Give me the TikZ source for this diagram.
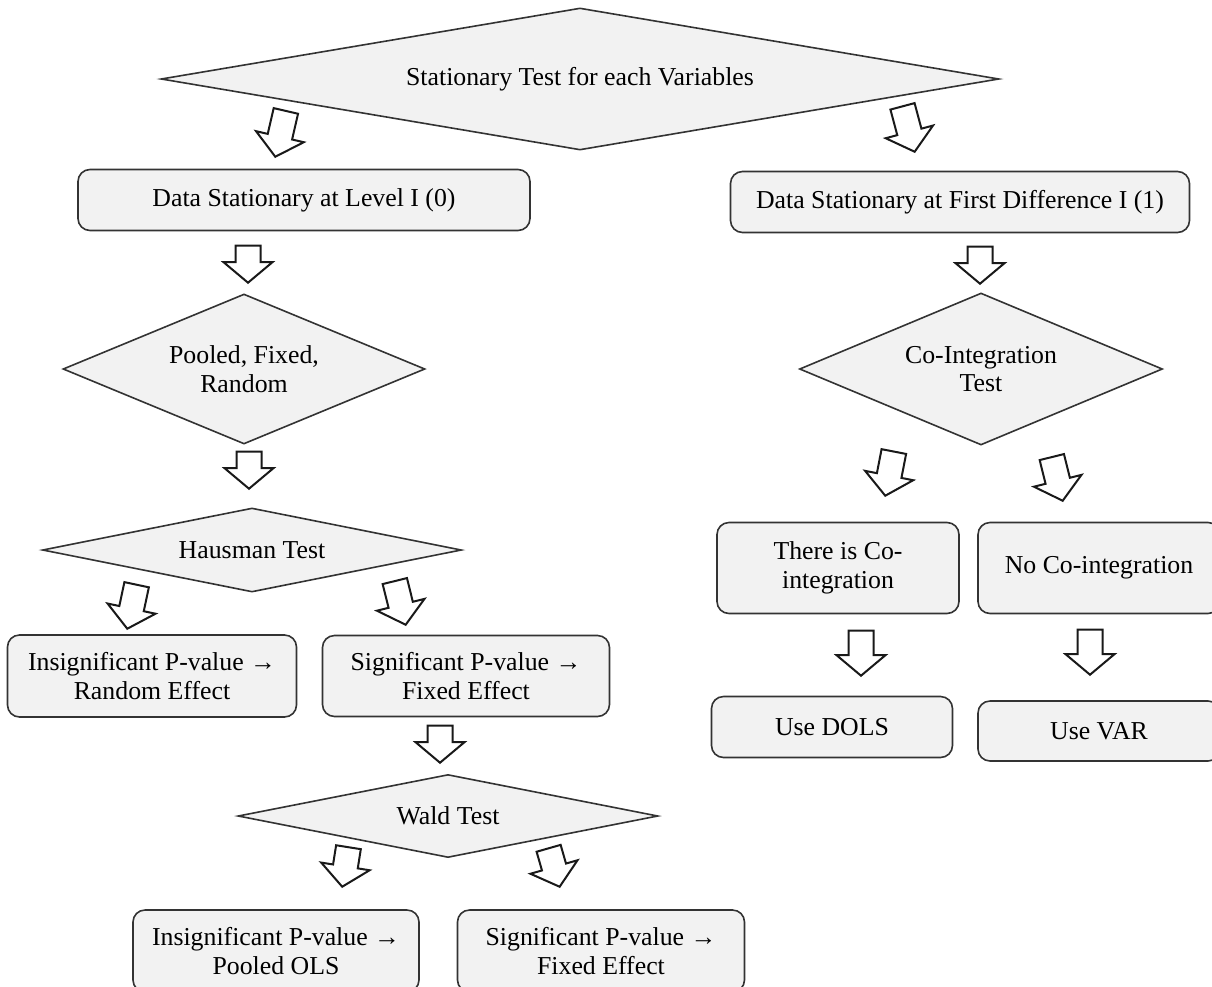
\documentclass[tikz,border=0pt]{standalone}
\usepackage{fontspec}
\setmainfont{Liberation Serif}
\usetikzlibrary{shapes.geometric,shapes.arrows}
\begin{document}
\begin{tikzpicture}[x=1pt,y=-1pt,
	box/.style={draw=black!80,line width=1.6pt,fill=gray!10,rounded corners=12pt,align=center,inner sep=0pt,font=\fontsize{25.8}{28.5}\selectfont},
	decision/.style={diamond,draw=black!80,line width=1.6pt,fill=gray!10,align=center,inner sep=0pt,font=\fontsize{25.8}{28.5}\selectfont},
	darrow/.style={single arrow,draw=black!90,line width=2pt,fill=white,inner xsep=0pt,inner ysep=11.5pt,single arrow head extend=12pt,single arrow tip angle=100,minimum width=47pt,anchor=tip}]
	%	\draw[color=gray,dash pattern=on 1pt off 1pt,step=50pt] (0,0) grid (1212,986);
	\useasboundingbox (0,0) rectangle (1212,986);
	\clip (0,0) rectangle (1212,986);
	% left branch
	\node[decision,aspect=5.9,minimum width=838pt,minimum height=142pt] (stat) at (580,79) {Stationary Test for each Variables};
	\node[box,minimum width=452pt,minimum height=61pt] (lvl) at (304,200) {Data Stationary at Level I (0)};
	\node[decision,aspect=2.4,minimum width=362pt,minimum height=150pt] (pool) at (244,369) {Pooled, Fixed,\\Random};
	\node[decision,aspect=5,minimum width=419pt,minimum height=84pt] (haus) at (252,550) {Hausman Test};
	\node[box,minimum width=289pt,minimum height=82pt] (rnd) at (152,676) {Insignificant P-value →\\Random Effect};
	\node[box,minimum width=287pt,minimum height=81pt] (fix) at (466,676) {Significant P-value →\\Fixed Effect};
	\node[decision,aspect=5,minimum width=420pt,minimum height=83pt] (wald) at (448,816) {Wald Test};
	\node[box,minimum width=286pt,minimum height=82pt] (ols) at (276,951) {Insignificant P-value →\\Pooled OLS};
	\node[box,minimum width=287pt,minimum height=82pt] (fixw) at (601,951) {Significant P-value →\\Fixed Effect};
	% right branch
	\node[box,minimum width=459pt,minimum height=61pt] (fd) at (960,202) {Data Stationary at First Difference I (1)};
	\node[decision,aspect=2.4,minimum width=363pt,minimum height=152pt] (coint) at (981,369) {Co-Integration\\Test};
	\node[box,minimum width=242pt,minimum height=91pt] (yes) at (838,568) {There is Co-\\integration};
	\node[box,minimum width=242pt,minimum height=91pt] (no) at (1099,568) {No Co-integration};
	\node[box,minimum width=241pt,minimum height=61pt] (dols) at (832,727) {Use DOLS};
	\node[box,minimum width=242pt,minimum height=60pt] (var) at (1099,731) {Use VAR};
	% block arrows
	\node[darrow,rotate=-103,minimum height=47pt] (a1) at (275,158) {};
	\node[darrow,rotate=-75,minimum height=47pt] (a2) at (915,153) {};
	\node[darrow,rotate=-90,minimum height=37pt] (a3) at (248,284) {};
	\node[darrow,rotate=-90,minimum height=37pt] (a4) at (249,490) {};
	\node[darrow,rotate=-102,minimum height=45pt] (a5) at (127,630) {};
	\node[darrow,rotate=-76,minimum height=45pt] (a6) at (406,626) {};
	\node[darrow,rotate=-90,minimum height=37pt] (a7) at (440,764) {};
	\node[darrow,rotate=-99,minimum height=40pt] (a8) at (342,888) {};
	\node[darrow,rotate=-74,minimum height=40pt] (a9) at (560,888) {};
	\node[darrow,rotate=-90,minimum height=37pt] (a10) at (980,285) {};
	\node[darrow,rotate=-101,minimum height=45pt] (a11) at (885,497) {};
	\node[darrow,rotate=-76,minimum height=45pt] (a12) at (1063,502) {};
	\node[darrow,rotate=-90,minimum height=45pt] (a13) at (861,677) {};
	\node[darrow,rotate=-90,minimum height=45pt] (a14) at (1090,676) {};
\end{tikzpicture}
\end{document}
